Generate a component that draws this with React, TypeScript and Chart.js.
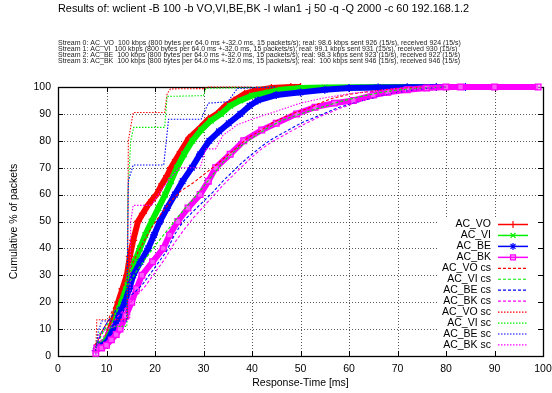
import React, { useEffect, useRef } from "react";
import { Chart, registerables } from "chart.js";
import { drawPoint } from "chart.js/helpers";

Chart.register(...registerables);

const TITLE = "Results of: wclient -B 100 -b VO,VI,BE,BK -I wlan1 -j 50 -q -Q 2000 -c 60 192.168.1.2";
const STREAM_LINES = [
  "Stream 0: AC_VO  100 kbps (800 bytes per 64.0 ms +-32.0 ms, 15 packets/s); real: 98.6 kbps sent 926 (15/s), received 924 (15/s)",
  "Stream 1: AC_VI  100 kbps (800 bytes per 64.0 ms +-32.0 ms, 15 packets/s); real: 99.1 kbps sent 931 (15/s), received 930 (15/s)",
  "Stream 2: AC_BE  100 kbps (800 bytes per 64.0 ms +-32.0 ms, 15 packets/s); real: 98.3 kbps sent 923 (15/s), received 922 (15/s)",
  "Stream 3: AC_BK  100 kbps (800 bytes per 64.0 ms +-32.0 ms, 15 packets/s); real:  100 kbps sent 946 (15/s), received 946 (15/s)",
];
const X_TITLE = "Response-Time [ms]";
const Y_TITLE = "Cumulative % of packets";
const X_TICKS = [0, 10, 20, 30, 40, 50, 60, 70, 80, 90, 100];
const Y_TICKS = [0, 10, 20, 30, 40, 50, 60, 70, 80, 90, 100];

const NAMES = ["AC_VO", "AC_VI", "AC_BE", "AC_BK", "AC_VO cs", "AC_VI cs", "AC_BE cs", "AC_BK cs", "AC_VO sc", "AC_VI sc", "AC_BE sc", "AC_BK sc"];
const COLORS = ["#ff0000", "#00ee00", "#0000ff", "#ff00ff"];

// main series
const VO_X = [7.8, 8.2, 9, 10, 10.7, 11.5, 12.4, 13.3, 14.2, 14.8, 15.5, 16.5, 17.5, 18.5, 19.4, 20.3, 21.5, 22.5, 23.3, 24.3, 25.3, 27, 29.4, 31, 32.8, 34.5, 36.3, 38.5, 41, 44, 48, 50];
const VO_Y = [2, 4, 4.5, 6, 10, 14, 20, 25, 30, 37, 43, 50, 53, 56, 58, 60, 64, 67, 70, 73, 76, 81, 85, 88, 90, 93, 95, 97.5, 98.8, 99.6, 100, 100];
const VI_X = [7.8, 8.5, 10, 11.2, 12.2, 13.1, 14, 14.8, 15.8, 16.9, 18, 19.3, 20.7, 22.1, 23.3, 24.5, 26, 27.7, 29.5, 31.5, 33.6, 35.5, 37.6, 40, 43.4, 46, 50, 55, 62, 70, 76, 87.5];
const VI_Y = [2, 4, 6, 10, 15, 20, 25, 30, 35, 40, 45, 50, 55, 60, 65, 70, 75, 80, 84, 87.5, 90, 93, 95, 96.8, 98, 99, 99.6, 99.8, 99.9, 100, 100, 100];
const BE_X = [7.8, 8.5, 10, 11.4, 12.6, 13.8, 14.7, 15.5, 17, 18.6, 19.8, 21, 22.5, 24.1, 25.7, 27.6, 29.3, 31.2, 33.2, 35.2, 37.6, 39.5, 41.2, 45, 50, 55, 60, 66, 72, 78, 84];
const BE_Y = [2, 3.5, 5, 10, 15, 20, 25, 30, 35, 40, 45, 50, 55, 60, 65, 70, 75, 80, 83.5, 86.5, 90, 93, 95, 97, 98, 99, 99.6, 99.8, 99.9, 100, 100];
const BK_X = [7.8, 8, 9, 10, 11, 12, 12.8, 14, 15.2, 16.2, 17.3, 19.5, 21.7, 23, 24.7, 26.8, 29.3, 31, 32.5, 35.5, 38.3, 42, 45, 49.2, 53, 57, 60.9, 65, 68, 72, 76, 80, 83, 90, 99];
const BK_Y = [1, 3, 3, 4, 6, 8, 10, 15, 20, 25, 30, 35, 40, 45, 50, 55, 60, 65, 70, 75, 80, 84, 86.5, 90, 92.5, 94, 95, 97, 98, 99, 99.6, 100, 100, 100, 100];

// client->server (dashed)
const VO_CS_X = [7.8, 9, 10, 12, 14, 15, 16.6, 19.3, 21.1, 23, 25.3, 28, 30.1, 32.8, 34.5, 36.9, 39, 41.8, 44, 46.6, 49, 51.4, 54, 56.2, 60, 65, 70, 75];
const VO_CS_Y = [4, 9, 12, 20, 28, 33, 39, 47.7, 52.5, 57, 61.3, 64.5, 67.5, 71.3, 74, 77.5, 81, 83.8, 86.5, 88.8, 90.5, 91.9, 94, 95.6, 97.3, 98.5, 99.5, 100];
const VI_CS_X = [7.8, 9, 10, 12, 14, 16, 18, 20, 22, 24, 26, 28, 30, 32, 34, 36, 38, 40, 43, 46, 50, 54, 58, 62, 66, 70, 75, 80];
const VI_CS_Y = [3, 8, 11, 18, 25, 31, 36, 41, 45.5, 50, 54.5, 58.5, 63, 67.5, 72, 75.5, 78.5, 81, 84.5, 87.5, 90, 92.3, 94.5, 96.3, 97.8, 98.9, 99.6, 100];
const BE_CS_X = [7.8, 9, 10, 12, 14, 16, 17.6, 20, 22.4, 24, 25.8, 28, 30, 32, 34, 36, 38, 40, 42, 44, 46, 48, 50, 54, 58, 62, 66, 70, 75, 80];
const BE_CS_Y = [3, 9, 12, 17, 21, 24, 27, 33, 39, 45, 50, 54, 57.5, 61, 65, 68.5, 72, 75, 78, 80.5, 82.5, 84.5, 86.5, 89.5, 92.5, 94.5, 96.5, 98, 99.3, 100];
const BK_CS_X = [7.8, 9, 10, 12, 14, 16, 18, 20, 22, 24, 26, 28, 30, 32, 34, 36, 38, 40, 42, 44, 46, 48, 50, 54, 58, 62, 66, 70, 75, 80];
const BK_CS_Y = [2, 6, 9, 14, 18, 22, 26, 31, 36, 42, 47, 51.5, 55.5, 59.5, 63.5, 67, 70.5, 74, 77, 79.5, 81.5, 83.5, 85.5, 89, 92, 94.5, 96.5, 98, 99.3, 100];

// server->client (dotted)
const VO_SC_X = [7.8, 8, 14.3, 14.5, 15.5, 22, 22.5, 23.2, 30, 31, 40];
const VO_SC_Y = [2, 13.5, 13.5, 80, 90.5, 90.5, 97.5, 99.3, 99.4, 100, 100];
const VI_SC_X = [7.8, 8.2, 10, 12, 14.2, 14.4, 15, 15.6, 22, 22.5, 30, 30.5, 40, 45];
const VI_SC_Y = [2, 8, 10, 11, 11, 60, 80, 85, 85, 96.5, 96.8, 99.5, 99.8, 100];
const BE_SC_X = [7.8, 8.3, 9, 14.2, 14.5, 15.5, 21.8, 22.8, 29.5, 31, 35, 37, 45];
const BE_SC_Y = [2, 9, 13, 13, 65, 71, 71, 88, 88, 94, 94.5, 99.5, 100];
const BK_SC_X = [7.8, 8.5, 10, 13, 14.8, 15, 15.5, 19.3, 21, 24, 25, 29.3, 30.5, 32.5, 34, 37, 40, 45, 50, 55, 60, 70, 80];
const BK_SC_Y = [1, 8, 10, 12, 14, 50, 56, 56, 61, 68, 70, 70, 77, 77, 82, 86, 88, 91, 94, 96, 97.5, 99.5, 100];

const SERIES_X = [VO_X, VI_X, BE_X, BK_X, VO_CS_X, VI_CS_X, BE_CS_X, BK_CS_X, VO_SC_X, VI_SC_X, BE_SC_X, BK_SC_X];
const SERIES_Y = [VO_Y, VI_Y, BE_Y, BK_Y, VO_CS_Y, VI_CS_Y, BE_CS_Y, BK_CS_Y, VO_SC_Y, VI_SC_Y, BE_SC_Y, BK_SC_Y];

const POINT_STYLES = ["cross", "crossRot", "star", "rect"];
const DASH_CS = [3, 2];
const DASH_SC = [1.5, 1.5];
const FONT = '"Liberation Sans", Arial, Helvetica, sans-serif';

function styleFor(i: number) {
  const group = Math.floor(i / 4);
  const k = i % 4;
  return { group, k, color: COLORS[k] };
}

const gnuplotLook = {
  id: "gnuplotLook",
  beforeDatasetsDraw(chart: any) {
    const { ctx, chartArea: a, scales } = chart;
    const xs = scales.x;
    const ys = scales.y;
    ctx.save();
    // grid
    ctx.strokeStyle = "rgba(0,0,0,0.65)";
    ctx.lineWidth = 1;
    ctx.setLineDash([1, 2]);
    for (const v of X_TICKS) {
      const px = Math.round(xs.getPixelForValue(v)) + 0.5;
      ctx.beginPath();
      ctx.moveTo(px, a.top);
      ctx.lineTo(px, a.bottom);
      ctx.stroke();
    }
    for (const v of Y_TICKS) {
      const py = Math.round(ys.getPixelForValue(v)) + 0.5;
      ctx.beginPath();
      ctx.moveTo(a.left, py);
      ctx.lineTo(a.right, py);
      ctx.stroke();
    }
    ctx.setLineDash([]);
    // opaque key box
    ctx.fillStyle = "#ffffff";
    ctx.fillRect(a.right - 104, a.top + 130, 104, a.bottom - a.top - 130);
    // inward ticks on all four sides
    ctx.strokeStyle = "#000";
    ctx.lineWidth = 1;
    for (const v of X_TICKS) {
      const px = Math.round(xs.getPixelForValue(v)) + 0.5;
      ctx.beginPath();
      ctx.moveTo(px, a.bottom);
      ctx.lineTo(px, a.bottom - 5);
      ctx.moveTo(px, a.top);
      ctx.lineTo(px, a.top + 5);
      ctx.stroke();
    }
    for (const v of Y_TICKS) {
      const py = Math.round(ys.getPixelForValue(v)) + 0.5;
      ctx.beginPath();
      ctx.moveTo(a.left, py);
      ctx.lineTo(a.left + 5, py);
      ctx.moveTo(a.right, py);
      ctx.lineTo(a.right - 5, py);
      ctx.stroke();
    }
    // border
    ctx.lineWidth = 1.3;
    ctx.strokeRect(Math.round(a.left) + 0.5, Math.round(a.top) + 0.5, Math.round(a.right - a.left), Math.round(a.bottom - a.top));
    ctx.restore();
  },
  afterDatasetsDraw(chart: any) {
    const { ctx, chartArea: a } = chart;
    ctx.save();
    // legend
    const textRight = a.right - 52;
    const lineL = a.right - 45;
    const lineR = a.right - 15;
    ctx.font = "10.5px " + FONT;
    ctx.textAlign = "right";
    ctx.textBaseline = "middle";
    NAMES.forEach((name, i) => {
      const y = a.top + 137 + i * 10.95;
      const { group, k, color } = styleFor(i);
      ctx.fillStyle = "#000";
      ctx.fillText(name, textRight, y + 0.5);
      ctx.strokeStyle = color;
      ctx.lineWidth = group === 0 ? 1.5 : 1.2;
      ctx.setLineDash(group === 0 ? [] : group === 1 ? DASH_CS : DASH_SC);
      ctx.beginPath();
      ctx.moveTo(lineL, y + 0.5);
      ctx.lineTo(lineR, y + 0.5);
      ctx.stroke();
      ctx.setLineDash([]);
      if (group === 0) {
        ctx.fillStyle = "rgba(255,0,255,0.25)";
        ctx.lineWidth = 1.2;
        drawPoint(ctx, { pointStyle: POINT_STYLES[k], radius: 3.5, rotation: 0, borderWidth: 1.2 } as any, (lineL + lineR) / 2, y + 0.5);
      }
    });
    ctx.restore();
  },
  afterDraw(chart: any) {
    const { ctx, chartArea: a } = chart;
    ctx.save();
    ctx.fillStyle = "#000";
    ctx.textBaseline = "middle";
    ctx.textAlign = "left";
    ctx.font = "10.9px " + FONT;
    ctx.fillText(TITLE, 58, 8.5);
    ctx.font = "7px " + FONT;
    ctx.fillStyle = "#222";
    STREAM_LINES.forEach((s, i) => ctx.fillText(s, 58, 43 + i * 5.9));
    ctx.fillStyle = "#000";
    ctx.font = "10.5px " + FONT;
    ctx.textAlign = "center";
    ctx.fillText(X_TITLE, (a.left + a.right) / 2, 383);
    ctx.translate(14, (a.top + a.bottom) / 2);
    ctx.rotate(-Math.PI / 2);
    ctx.fillText(Y_TITLE, 0, 0);
    ctx.restore();
  },
};

export default function App() {
  const ref = useRef<HTMLCanvasElement | null>(null);
  useEffect(() => {
    if (!ref.current) return;
    Chart.defaults.font.family = FONT;
    const datasets = SERIES_X.map((xsArr, i) => {
      const { group, k, color } = styleFor(i);
      const data = xsArr.map((x, j) => ({ x, y: SERIES_Y[i][j] }));
      if (group === 0) {
        return {
          label: NAMES[i],
          data,
          borderColor: color,
          backgroundColor: k === 3 ? "rgba(255,0,255,0.3)" : color,
          pointBackgroundColor: k === 3 ? "rgba(255,150,255,0.6)" : color,
          pointBorderColor: color,
          borderWidth: 6,
          pointStyle: POINT_STYLES[k],
          pointRadius: 4,
          pointBorderWidth: 1.3,
          tension: 0,
          fill: false,
          clip: false,
          order: 12 - i,
        };
      }
      return {
        label: NAMES[i],
        data,
        borderColor: color,
        backgroundColor: color,
        borderWidth: 1.1,
        borderDash: group === 1 ? DASH_CS : DASH_SC,
        pointRadius: 0,
        tension: 0,
        fill: false,
        clip: false,
        order: 12 - i,
      };
    });
    const chart = new Chart(ref.current, {
      type: "line",
      data: { datasets: datasets as any },
      options: {
        responsive: false,
        maintainAspectRatio: false,
        devicePixelRatio: 1,
        animation: false,
        events: [],
        layout: { padding: { top: 87, right: 9, left: 0, bottom: 0 } },
        plugins: { legend: { display: false }, title: { display: false }, tooltip: { enabled: false } },
        scales: {
          x: {
            type: "linear",
            min: 0,
            max: 100,
            grid: { display: false, drawTicks: false },
            border: { display: false },
            ticks: { stepSize: 10, padding: 7, color: "#000", font: { size: 10.5, family: FONT }, maxRotation: 0 },
            afterFit: (s: any) => { s.height = 37; s.paddingLeft = 0; s.paddingRight = 0; },
          },
          y: {
            type: "linear",
            min: 0,
            max: 100,
            grid: { display: false, drawTicks: false },
            border: { display: false },
            ticks: { stepSize: 10, padding: 7, color: "#000", font: { size: 10.5, family: FONT } },
            afterFit: (s: any) => { s.width = 58; s.paddingTop = 0; s.paddingBottom = 0; },
          },
        },
      },
      plugins: [gnuplotLook],
    });
    return () => chart.destroy();
  }, []);
  return (
    <div style={{ position: "fixed", left: 0, top: 0, width: 552, height: 393, background: "#fff" }}>
      <canvas ref={ref} width={552} height={393} style={{ display: "block", width: 552, height: 393 }} />
    </div>
  );
}
